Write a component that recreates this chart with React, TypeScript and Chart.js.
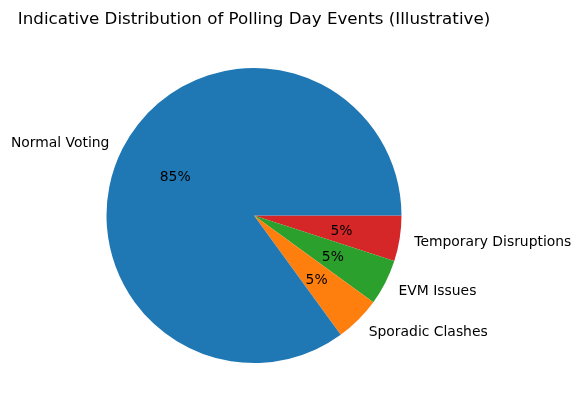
import { useEffect, useRef } from "react"
import { Chart, registerables } from "chart.js"

Chart.register(...registerables)

// drawn clockwise from 3 o'clock, so listed in reverse of the matplotlib order
const categories = ["Temporary Disruptions", "EVM Issues", "Sporadic Clashes", "Normal Voting"]
const shares = [5, 5, 5, 85]
const colors = ["#d62728", "#2ca02c", "#ff7f0e", "#1f77b4"]

const TITLE = "Indicative Distribution of Polling Day Events (Illustrative)"
const FONT = "DejaVu Sans, sans-serif"

const pieLabels = {
  id: "pieLabels",
  afterDraw(chart: Chart) {
    const ctx = chart.ctx
    const meta = chart.getDatasetMeta(0)
    const total = shares.reduce((a, b) => a + b, 0)
    ctx.save()
    ctx.textBaseline = "middle"
    meta.data.forEach((el: any, i: number) => {
      const { x, y, startAngle, endAngle, outerRadius } = el.getProps(
        ["x", "y", "startAngle", "endAngle", "outerRadius"],
        true
      )
      const mid = (startAngle + endAngle) / 2
      const cx = Math.cos(mid)
      const cy = Math.sin(mid)
      ctx.font = `13.9px ${FONT}`
      ctx.fillStyle = "#000"
      // category label at 1.1 r
      ctx.textAlign = cx > 0 ? "left" : "right"
      ctx.fillText(categories[i], x + cx * outerRadius * 1.1, y + cy * outerRadius * 1.1 + 2)
      // percentage at 0.6 r
      ctx.textAlign = "center"
      const pct = Math.round((shares[i] / total) * 100) + "%"
      ctx.fillText(pct, x + cx * outerRadius * 0.6, y + cy * outerRadius * 0.6 + 2)
    })
    // title, centred over the pie
    const area = chart.chartArea
    ctx.font = `16.7px ${FONT}`
    ctx.textAlign = "center"
    ctx.textBaseline = "alphabetic"
    ctx.fillText(TITLE, (area.left + area.right) / 2, 24)
    ctx.restore()
  },
}

export default function App() {
  const chartRef = useRef<HTMLCanvasElement>(null)
  const chartInstance = useRef<Chart | null>(null)

  useEffect(() => {
    if (!chartRef.current) return
    if (chartInstance.current) chartInstance.current.destroy()

    chartInstance.current = new Chart(chartRef.current, {
      type: "pie",
      data: {
        labels: categories,
        datasets: [
          {
            data: shares,
            backgroundColor: colors,
            borderWidth: 0,
          },
        ],
      },
      options: {
        responsive: true,
        maintainAspectRatio: false,
        animation: false,
        rotation: 90,
        layout: {
          padding: { top: 68, bottom: 48, left: 106, right: 179 },
        },
        plugins: {
          legend: { display: false },
          title: { display: false },
          tooltip: { enabled: false },
        },
      },
      plugins: [pieLabels],
    })

    return () => {
      if (chartInstance.current) {
        chartInstance.current.destroy()
        chartInstance.current = null
      }
    }
  }, [])

  return (
    <div style={{ position: "fixed", top: 0, left: 0, width: 581, height: 411, background: "#fff" }}>
      <canvas ref={chartRef} />
    </div>
  )
}
